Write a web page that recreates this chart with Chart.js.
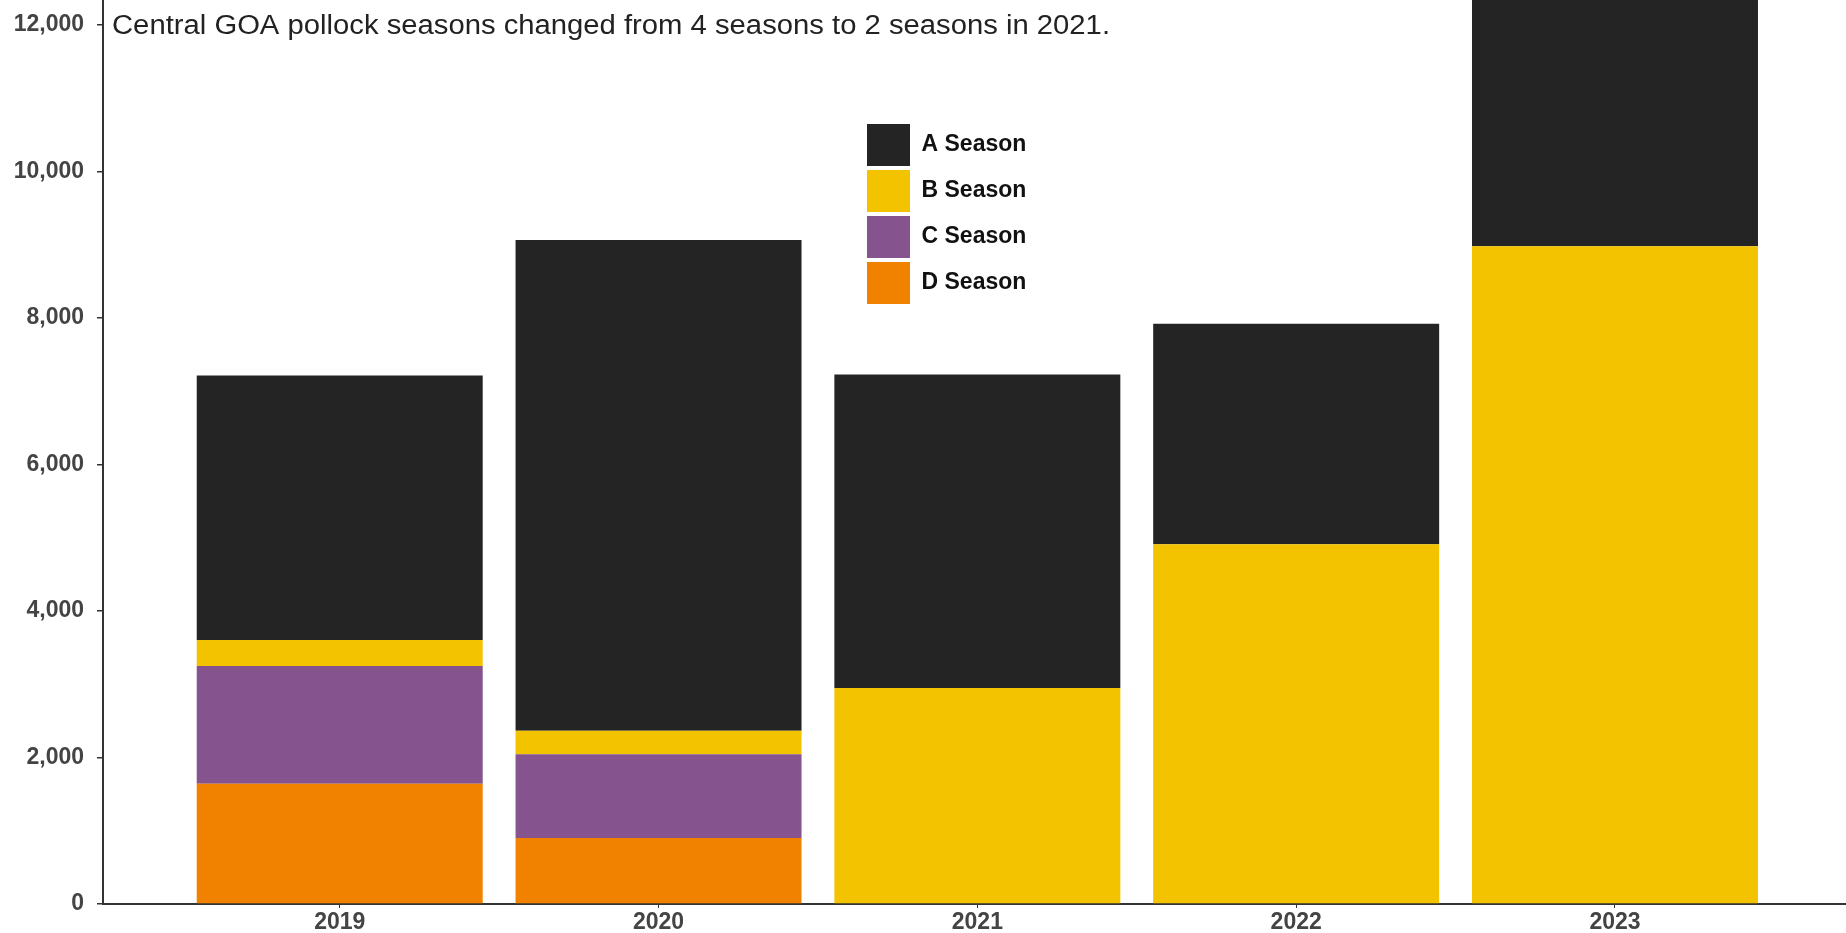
<!DOCTYPE html>
<html><head><meta charset="utf-8">
<script src="https://cdn.jsdelivr.net/npm/chart.js@4.4.1/dist/chart.umd.min.js"></script>
<style>html,body{margin:0;padding:0;background:#fff;overflow:hidden}canvas{display:block}</style>
</head><body>
<canvas id="c" width="1846" height="933"></canvas>
<script>
const categories = ['2019', '2020', '2021', '2022', '2023'];
const seasonA = [3610, 6700, 4280, 3010, 4500];
const seasonB = [355, 320, 2950, 4910, 8980];
const seasonC = [1610, 1145, 0, 0, 0];
const seasonD = [1640, 900, 0, 0, 0];
const yTicks = [0, 2000, 4000, 6000, 8000, 10000, 12000];
const seriesNames = ['A Season', 'B Season', 'C Season', 'D Season'];
const note = 'Central GOA pollock seasons changed from 4 seasons to 2 seasons in 2021.';

const FAM = '"Liberation Sans", Arial, Helvetica, sans-serif';

const toPts = arr => categories.map((c, i) => ({ x: i, y: arr[i] }));

const legendMover = {
  id: 'legendMover',
  afterLayout(chart) {
    const lg = chart.legend;
    if (!lg) return;
    const w = lg.width;
    lg.left = 863; lg.top = 120; lg.right = lg.left + w; lg.bottom = lg.top + 200;
  }
};

const notePlugin = {
  id: 'note',
  afterDraw(chart) {
    const ctx = chart.ctx;
    ctx.save();
    ctx.font = '27px ' + FAM;
    ctx.fillStyle = '#222';
    ctx.textBaseline = 'alphabetic';
    ctx.textAlign = 'left';
    const w = ctx.measureText(note).width;
    const sx = 998 / w;
    ctx.translate(chart.chartArea.left + 9, 34);
    ctx.scale(sx, 1);
    ctx.fillText(note, 0, 0);
    ctx.restore();
  }
};

new Chart(document.getElementById('c'), {
  type: 'bar',
  data: {
    datasets: [
      { label: seriesNames[3], data: toPts(seasonD), backgroundColor: '#F18200' },
      { label: seriesNames[2], data: toPts(seasonC), backgroundColor: '#85548F' },
      { label: seriesNames[1], data: toPts(seasonB), backgroundColor: '#F3C300' },
      { label: seriesNames[0], data: toPts(seasonA), backgroundColor: '#242424' }
    ]
  },
  options: {
    responsive: false,
    animation: false,
    devicePixelRatio: 1,
    layout: { padding: 0 },
    datasets: { bar: { borderWidth: 0, categoryPercentage: 1, barPercentage: 0.897 } },
    plugins: {
      tooltip: { enabled: false },
      title: { display: false },
      legend: {
        display: true,
        position: 'chartArea',
        align: 'start',
        reverse: true,
        labels: {
          boxWidth: 43, boxHeight: 42, padding: 4,
          color: '#111',
          font: { family: FAM, size: 23, weight: 'bold' }
        }
      }
    },
    scales: {
      x: {
        type: 'linear', stacked: true, offset: false,
        min: -0.7425, max: 4.7246,
        afterBuildTicks: s => { s.ticks = categories.map((c, i) => ({ value: i })); },
        afterFit: s => { s.height = 29; s.paddingLeft = 0; s.paddingRight = 0; },
        ticks: {
          callback: v => categories[v],
          autoSkip: false, maxRotation: 0, padding: 1,
          color: '#444',
          font: { family: FAM, size: 23, weight: 'bold' }
        },
        grid: { offset: false, drawOnChartArea: false, drawTicks: true, tickLength: 4, color: '#333', lineWidth: 1 },
        border: { display: true, color: '#333', width: 2 }
      },
      y: {
        stacked: true, min: 0, max: 12341,
        afterBuildTicks: s => { s.ticks = yTicks.map(v => ({ value: v })); },
        afterFit: s => { s.width = 103; s.paddingTop = 0; s.paddingBottom = 0; },
        ticks: {
          callback: v => v.toLocaleString('en-US'),
          padding: 13,
          color: '#444',
          font: { family: FAM, size: 23, weight: 'bold' }
        },
        grid: { drawOnChartArea: false, drawTicks: true, tickLength: 6, color: '#333', lineWidth: 1.5 },
        border: { display: true, color: '#333', width: 2 }
      }
    }
  },
  plugins: [legendMover, notePlugin]
});
</script>
</body></html>
